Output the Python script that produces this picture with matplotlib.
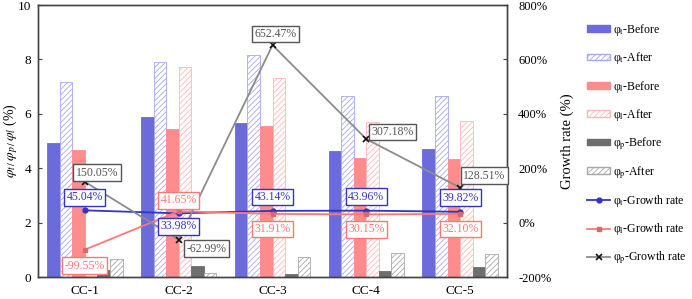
import matplotlib.pyplot as plt
import numpy as np
from matplotlib.lines import Line2D
from matplotlib.patches import Patch

categories = ["CC-1", "CC-2", "CC-3", "CC-4", "CC-5"]
phi_t_before = [4.93, 5.90, 5.66, 4.62, 4.72]
phi_t_after = [7.17, 7.92, 8.16, 6.65, 6.64]
phi_l_before = [4.68, 5.45, 5.56, 4.38, 4.35]
phi_l_after = [0.02, 7.72, 7.33, 5.70, 5.75]
phi_p_before = [0.26, 0.40, 0.10, 0.22, 0.37]
phi_p_after = [0.65, 0.15, 0.75, 0.90, 0.85]
growth_t = [45.04, 33.98, 43.14, 43.96, 39.82]
growth_l = [-99.55, 41.65, 31.91, 30.15, 32.10]
growth_p = [150.05, -62.99, 652.47, 307.18, 128.51]

BLUE = "#6b6bdb"
BLUE_H = "#a8a8f0"
RED = "#ff8c8c"
RED_H = "#ffb8b8"
DARK = "#6e6e6e"
GRAY_H = "#a8a8a8"
LINE_T = "#3434c4"
LINE_L = "#ff7878"
LINE_P = "#8c8c8c"

plt.rcParams["font.family"] = ["Liberation Serif", "DejaVu Serif"]
plt.rcParams["mathtext.fontset"] = "stix"
plt.rcParams["hatch.linewidth"] = 0.6

fig = plt.figure(figsize=(6.92, 2.99), dpi=100)
ax = fig.add_axes([38 / 692, 22 / 299, 469 / 692, 272 / 299])
ax2 = ax.twinx()

x = np.arange(len(categories))
w = 0.134
series = [
    (phi_t_before, BLUE, None, BLUE),
    (phi_t_after, "white", "//////", BLUE_H),
    (phi_l_before, RED, None, RED),
    (phi_l_after, "white", "//////", RED_H),
    (phi_p_before, DARK, None, DARK),
    (phi_p_after, "white", "//////", GRAY_H),
]
for i, (vals, fc, hatch, ec) in enumerate(series):
    ax.bar(x + (i - 2.5) * w, vals, w, color=fc, hatch=hatch, edgecolor=ec, linewidth=0.6)

ax.set_xlim(-0.5, 4.5)
ax.set_ylim(0, 10)
ax.set_yticks([0, 2, 4, 6, 8, 10])
ax.set_xticks(x)
ax.set_xticklabels(categories, fontsize=9.5)
ax.tick_params(axis="x", length=0, pad=6)
ax.tick_params(axis="y", direction="in", labelsize=9.5, length=3, pad=5, color="#444")
ax.set_ylabel(r"$\varphi_{t\,/}\,\varphi_{p\,/}\,\varphi_{l}$ (%)", fontsize=10)
ax.yaxis.set_label_coords(-0.039, 0.5)

ax2.plot(x, growth_t, color=LINE_T, lw=1.3, marker="o", ms=3.5, zorder=5)
ax2.plot(x, growth_l, color=LINE_L, lw=1.3, marker="s", ms=3.5, mfc="#d86a6a", mec="#d86a6a", zorder=5)
ax2.plot(x, growth_p, color=LINE_P, lw=1.3, marker="x", ms=4, mec="#111", mew=1.2, zorder=5)
ax2.set_ylim(-200, 800)
ax2.set_yticks(range(-200, 801, 200))
ax2.set_yticklabels([f"{v}%" for v in range(-200, 801, 200)])
ax2.tick_params(axis="y", direction="in", labelsize=9, length=3, pad=8, color="#444")
ax2.set_ylabel("Growth rate (%)", fontsize=10.5)
ax2.yaxis.set_label_coords(1.115, 0.5)
for a in (ax, ax2):
    for s in a.spines.values():
        s.set_color("#444")
        s.set_linewidth(1.0)

# label offsets in pixels (dx, dy) from each marker
offsets_t = [(0, 13), (0, -13), (0, 14), (0, 14), (0, 14)]
offsets_l = [(0, -16), (0, 11), (0, -15), (0, -15), (0, -15)]
offsets_p = [(12, 9), (28, -9), (3, 11), (26, 7), (24, 12)]


def label(vals, offs, color):
    for xi, v, (dx, dy) in zip(x, vals, offs):
        ax2.annotate(f"{v:.2f}%", (xi, v), xytext=(dx, dy), textcoords="offset pixels",
                     ha="center", va="center", fontsize=8.5, color=color, zorder=6,
                     bbox=dict(boxstyle="square,pad=0.2", fc="white", ec=color, lw=1.0))


label(growth_p, offsets_p, "#555")
label(growth_t, offsets_t, LINE_T)
label(growth_l, offsets_l, LINE_L)

handles = [
    Patch(fc=BLUE, ec=BLUE),
    Patch(fc="white", ec=BLUE_H, hatch="//////"),
    Patch(fc=RED, ec=RED),
    Patch(fc="white", ec=RED_H, hatch="//////"),
    Patch(fc=DARK, ec=DARK),
    Patch(fc="white", ec=GRAY_H, hatch="//////"),
    Line2D([], [], color=LINE_T, lw=1.3, marker="o", ms=3.5),
    Line2D([], [], color=LINE_L, lw=1.3, marker="s", ms=3.5, mfc="#d86a6a", mec="#d86a6a"),
    Line2D([], [], color=LINE_P, lw=1.3, marker="x", ms=4, mec="#111", mew=1.2),
]
labels = [
    "φ$_\\mathrm{t}$-Before", "φ$_\\mathrm{t}$-After",
    "φ$_\\mathrm{l}$-Before", "φ$_\\mathrm{l}$-After",
    "φ$_\\mathrm{p}$-Before", "φ$_\\mathrm{p}$-After",
    "φ$_\\mathrm{t}$-Growth rate", "φ$_\\mathrm{l}$-Growth rate", "φ$_\\mathrm{p}$-Growth rate",
]
fig.legend(handles, labels, loc="upper left", bbox_to_anchor=(582 / 692, 1 - 17 / 299),
           frameon=False, fontsize=8.5, handlelength=2.0, handleheight=0.5,
           handletextpad=0.2, labelspacing=1.05, borderaxespad=0)

fig.savefig("out.png", dpi=100)
